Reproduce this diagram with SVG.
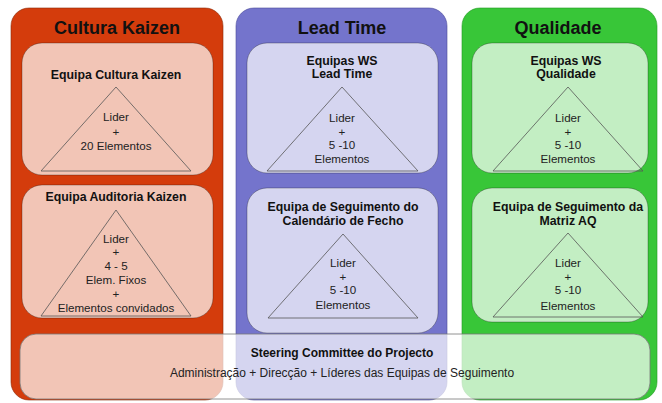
<svg xmlns="http://www.w3.org/2000/svg" width="662" height="403" viewBox="0 0 662 403">
  <style>
    .col-title { font-family: "Liberation Sans", Arial, sans-serif; font-size: 18px; font-weight: bold; fill: #111; text-anchor: middle; }
    .box-title { font-family: "Liberation Sans", Arial, sans-serif; font-size: 12.3px; font-weight: bold; fill: #111; text-anchor: middle; }
    .tri-text { font-family: "Liberation Sans", Arial, sans-serif; font-size: 11.6px; fill: #222; text-anchor: middle; }
    .band-title { font-family: "Liberation Sans", Arial, sans-serif; font-size: 12px; font-weight: bold; fill: #111; text-anchor: middle; }
    .band-text { font-family: "Liberation Sans", Arial, sans-serif; font-size: 12px; fill: #222; text-anchor: middle; }
    .inner { fill: #ffffff; fill-opacity: 0.7; stroke: #000; stroke-opacity: 0.35; stroke-width: 0.8; }
    .tri { fill: none; stroke: #555; stroke-width: 0.8; }
    .band { fill: #ffffff; fill-opacity: 0.7; stroke: #777; stroke-width: 0.8; }
  </style>
  <rect width="662" height="403" fill="#ffffff"/>

  <!-- Column backgrounds -->
  <g id="col-kaizen">
    <rect x="11" y="8" width="212" height="392" rx="18" fill="#d43c0c" stroke="#8a2a08" stroke-width="0.6"/>
    <text class="col-title" x="117" y="34">Cultura Kaizen</text>
  </g>
  <g id="col-leadtime">
    <rect x="236" y="8" width="211" height="392" rx="18" fill="#7474cc" stroke="#4a4a99" stroke-width="0.6"/>
    <text class="col-title" x="342" y="34">Lead Time</text>
  </g>
  <g id="col-qualidade">
    <rect x="462" y="8" width="195" height="392" rx="18" fill="#38c638" stroke="#229922" stroke-width="0.6"/>
    <text class="col-title" x="558" y="34">Qualidade</text>
  </g>

  <!-- Cultura Kaizen teams -->
  <g id="equipa-cultura-kaizen">
    <rect class="inner" x="22" y="43" width="191" height="132" rx="20"/>
    <text class="box-title" x="116" y="79">Equipa Cultura Kaizen</text>
    <polygon class="tri" points="116,87 41,171 191,171"/>
    <text class="tri-text" x="116" y="121">Lider</text>
    <text class="tri-text" x="116" y="136">+</text>
    <text class="tri-text" x="116" y="150">20 Elementos</text>
  </g>
  <g id="equipa-auditoria-kaizen">
    <rect class="inner" x="22" y="185" width="191" height="133" rx="20"/>
    <text class="box-title" x="116" y="201">Equipa Auditoria Kaizen</text>
    <polygon class="tri" points="116,210 41,316 191,316"/>
    <text class="tri-text" x="116" y="243">Lider</text>
    <text class="tri-text" x="116" y="256">+</text>
    <text class="tri-text" x="116" y="270">4 - 5</text>
    <text class="tri-text" x="116" y="284">Elem. Fixos</text>
    <text class="tri-text" x="116" y="298">+</text>
    <text class="tri-text" x="116" y="312">Elementos convidados</text>
  </g>

  <!-- Lead Time teams -->
  <g id="equipas-ws-lead-time">
    <rect class="inner" x="247" y="43" width="191" height="130" rx="20"/>
    <text class="box-title" x="342" y="65">Equipas WS</text>
    <text class="box-title" x="342" y="78">Lead Time</text>
    <polygon class="tri" points="342,87 267,171 418,171"/>
    <text class="tri-text" x="342" y="122">Lider</text>
    <text class="tri-text" x="342" y="136">+</text>
    <text class="tri-text" x="342" y="149">5 -10</text>
    <text class="tri-text" x="342" y="163">Elementos</text>
  </g>
  <g id="equipa-calendario-fecho">
    <rect class="inner" x="247" y="188" width="191" height="145" rx="20"/>
    <text class="box-title" x="343" y="211">Equipa de Seguimento do</text>
    <text class="box-title" x="343" y="225">Calendário de Fecho</text>
    <polygon class="tri" points="343,234 268,318 418,318"/>
    <text class="tri-text" x="343" y="267">Lider</text>
    <text class="tri-text" x="343" y="281">+</text>
    <text class="tri-text" x="343" y="294">5 -10</text>
    <text class="tri-text" x="343" y="309">Elementos</text>
  </g>

  <!-- Qualidade teams -->
  <g id="equipas-ws-qualidade">
    <rect class="inner" x="472" y="43" width="176" height="130" rx="20"/>
    <text class="box-title" x="566" y="65">Equipas WS</text>
    <text class="box-title" x="566" y="78">Qualidade</text>
    <polygon class="tri" points="568,87 493,171 643,171"/>
    <text class="tri-text" x="568" y="122">Lider</text>
    <text class="tri-text" x="568" y="136">+</text>
    <text class="tri-text" x="568" y="149">5 -10</text>
    <text class="tri-text" x="568" y="163">Elementos</text>
  </g>
  <g id="equipa-matriz-aq">
    <rect class="inner" x="472" y="188" width="176" height="134" rx="20"/>
    <text class="box-title" x="568" y="211">Equipa de Seguimento da</text>
    <text class="box-title" x="568" y="225">Matriz AQ</text>
    <polygon class="tri" points="568,233 493,317 643,317"/>
    <text class="tri-text" x="568" y="267">Lider</text>
    <text class="tri-text" x="568" y="281">+</text>
    <text class="tri-text" x="568" y="294">5 -10</text>
    <text class="tri-text" x="568" y="310">Elementos</text>
  </g>

  <!-- Steering committee band across all columns -->
  <g id="steering-committee">
    <rect class="band" x="20" y="334" width="630" height="65" rx="16"/>
    <text class="band-title" x="342" y="357">Steering Committee do Projecto</text>
    <text class="band-text" x="342" y="377">Administração + Direcção + Líderes das Equipas de Seguimento</text>
  </g>

  <g id="connectors"/>
</svg>
